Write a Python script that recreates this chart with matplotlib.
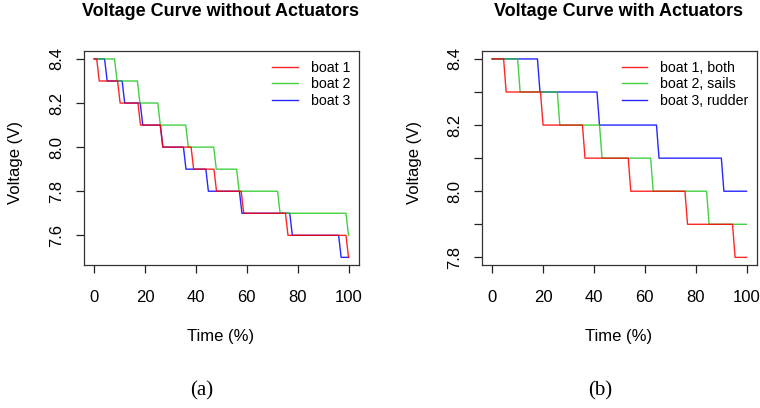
import matplotlib
matplotlib.use("Agg")
import matplotlib.pyplot as plt

plt.rcParams["font.family"] = ["Liberation Sans", "DejaVu Sans"]

W, H = 760, 408

# Time (%) at which each boat's voltage drops by one 0.1 V step
noact_start = 8.4
noact_boat1 = [1.0, 9.2, 17.2, 26.0, 38.1, 47.1, 57.8, 75.2, 99.0]
noact_boat2 = [8.0, 17.0, 25.0, 36.0, 47.0, 56.0, 72.1, 99.0]
noact_boat3 = [4.1, 11.0, 18.1, 26.0, 35.1, 43.9, 57.1, 76.9, 96.1]

act_start = 8.4
act_boat1 = [4.5, 19.0, 35.5, 53.5, 75.8, 94.5]
act_boat2 = [10.0, 25.6, 42.2, 62.3, 84.3]
act_boat3 = [17.8, 41.2, 64.6, 90.1]

step_v = 0.1       # voltage resolution
sample = 1.0       # sampling interval (%)
t_end = 100.0

labels_left = ["boat 1", "boat 2", "boat 3"]
labels_right = ["boat 1, both", "boat 2, sails", "boat 3, rudder"]
colors = ["#ff0000", "#22c822", "#0000ff"]

x_ticks = [0, 20, 40, 60, 80, 100]
left_yticks = [7.6, 7.8, 8.0, 8.2, 8.4]
right_yticks = [7.8, 7.9, 8.0, 8.1, 8.2, 8.3, 8.4]
right_ylabels = ["7.8", "", "8.0", "", "8.2", "", "8.4"]


def trace(v0, drops):
    xs, ys = [0.0], [v0]
    v = v0
    for t in drops:
        xs.append(t)
        ys.append(v)
        v = round(v - step_v, 2)
        xs.append(min(t + sample, t_end))
        ys.append(v)
    if xs[-1] < t_end:
        xs.append(t_end)
        ys.append(v)
    return xs, ys


def px_rect(x0, y0, x1, y1):
    return [x0 / W, 1 - y1 / H, (x1 - x0) / W, (y1 - y0) / H]


fig = plt.figure(figsize=(W / 100, H / 100), dpi=100)
ax1 = fig.add_axes(px_rect(84, 51, 358.7, 265.3))
ax2 = fig.add_axes(px_rect(482, 51, 756.7, 265.3))


def style(ax, yticks, ylabels, ylo, yhi):
    ax.set_xlim(-4, 104)
    pad = (yhi - ylo) * 0.04
    ax.set_ylim(ylo - pad, yhi + pad)
    ax.set_xticks(x_ticks)
    ax.set_xticklabels([str(t) for t in x_ticks], fontsize=12)
    ax.set_yticks(yticks)
    ax.set_yticklabels(ylabels, fontsize=12, rotation=90, va="center")
    ax.tick_params(direction="out", length=6, width=0.9, color="#222222")
    ax.tick_params(axis="x", pad=12)
    ax.tick_params(axis="y", pad=8)
    for s in ax.spines.values():
        s.set_linewidth(0.9)
        s.set_color("#333333")


series_left = [noact_boat1, noact_boat2, noact_boat3]
order = [2, 1, 0]
for i in order:
    xs, ys = trace(noact_start, series_left[i])
    ax1.plot(xs, ys, color=colors[i], lw=1.0, alpha=0.85, label=labels_left[i])
style(ax1, left_yticks, [f"{v:.1f}" for v in left_yticks], 7.5, 8.4)

series_right = [act_boat1, act_boat2, act_boat3]
for i in order:
    xs, ys = trace(act_start, series_right[i])
    ax2.plot(xs, ys, color=colors[i], lw=1.0, alpha=0.85, label=labels_right[i])
style(ax2, right_yticks, right_ylabels, 7.8, 8.4)

for ax in (ax1, ax2):
    h, l = ax.get_legend_handles_labels()
    ax.legend(h[::-1], l[::-1], loc="upper right", frameon=False,
              fontsize=10.2, handlelength=1.8, handletextpad=0.9,
              labelspacing=0.2, borderaxespad=0.2,
              bbox_to_anchor=(1.0, 0.995))

fig.text(221 / W, 1 - 11 / H, "Voltage Curve without Actuators",
         ha="center", va="center", fontsize=13, fontweight="bold")
fig.text(619 / W, 1 - 11 / H, "Voltage Curve with Actuators",
         ha="center", va="center", fontsize=13, fontweight="bold")

fig.text(16 / W, 1 - 163 / H, "Voltage (V)", rotation=90,
         ha="center", va="center", fontsize=12)
fig.text(414 / W, 1 - 163 / H, "Voltage (V)", rotation=90,
         ha="center", va="center", fontsize=12)
fig.text(221 / W, 1 - 337 / H, "Time (%)", ha="center", va="center",
         fontsize=12)
fig.text(619 / W, 1 - 337 / H, "Time (%)", ha="center", va="center",
         fontsize=12)

fig.text(201.5 / W, 1 - 391 / H, "(a)", ha="center", va="center",
         fontsize=15, family=["Liberation Serif", "DejaVu Serif"])
fig.text(600 / W, 1 - 391 / H, "(b)", ha="center", va="center",
         fontsize=15, family=["Liberation Serif", "DejaVu Serif"])

fig.savefig("out.png", dpi=100)
